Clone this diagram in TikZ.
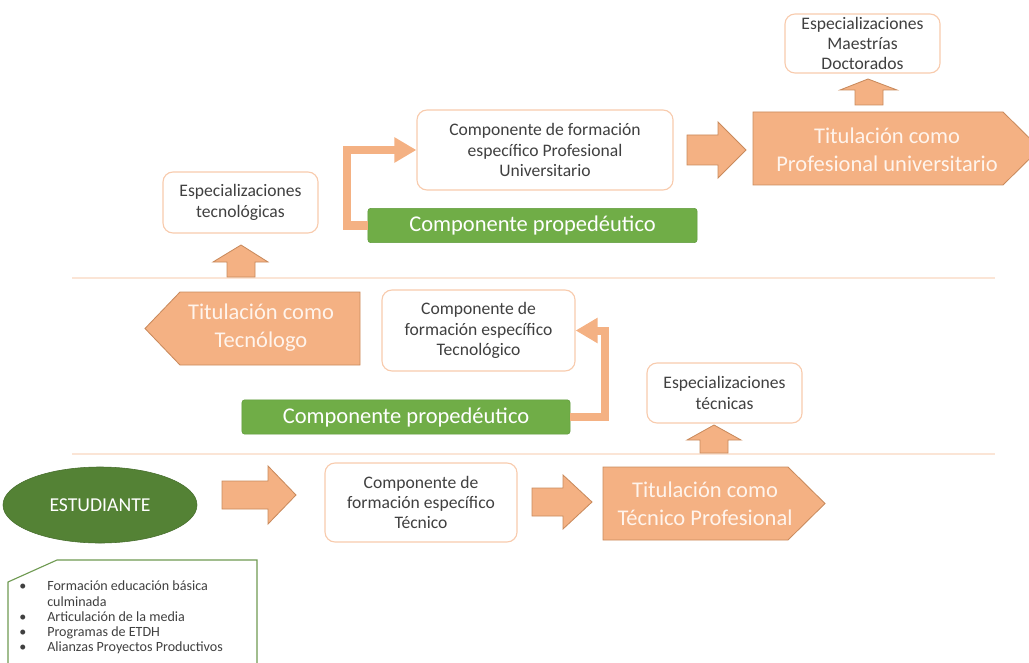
\documentclass[tikz,border=0pt]{standalone}
\usepackage{fontspec}
\setmainfont{Carlito}
\usetikzlibrary{arrows.meta,shapes.geometric}
\definecolor{orangefill}{HTML}{F4B183}
\definecolor{orangeline}{HTML}{C98A5C}
\definecolor{boxline}{HTML}{F8CBAD}
\definecolor{barGreen}{HTML}{70AD47}
\definecolor{barGreenLine}{HTML}{5E9A3A}
\definecolor{darkGreen}{HTML}{548235}
\definecolor{listGreen}{HTML}{6F9A52}
\definecolor{txtgray}{HTML}{404040}
\definecolor{sepline}{HTML}{FBE5D6}
\definecolor{titlewhite}{HTML}{FFF4EC}
\begin{document}
\begin{tikzpicture}[x=0.025cm, y=-0.025cm,
    box/.style={draw=boxline, line width=0.8pt, rounded corners=0.25cm, fill=white, text=txtgray, align=center, inner sep=0pt, font=\fontsize{12.5}{14.5}\selectfont},
    prop/.style={fill=barGreen, draw=barGreenLine, line width=0.4pt, rounded corners=2pt, text=white, inner sep=0pt, font=\fontsize{16}{20}\selectfont, minimum height=0.86cm},
    block/.style={fill=orangefill, draw=orangeline, line width=0.6pt, line join=miter},
    big/.style={text=titlewhite, align=center, font=\fontsize{16}{20}\selectfont},
    elbow/.style={draw=orangefill, line width=0.2cm, -{Triangle[length=0.55cm,width=0.6cm]}}]
\useasboundingbox (0,0) rectangle (1029,662);
\clip (0,0) rectangle (1029,662);

% separators
\draw[sepline, line width=1pt] (72,278) -- (995,278);
\draw[sepline, line width=1pt] (72,454) -- (995,454);

% boxes
\node[box, minimum width=3.875cm, minimum height=1.475cm] (EMD) at (862.5,43.5) {Especializaciones\\Maestrías\\Doctorados};
\node[box, minimum width=6.4cm, minimum height=2cm] (CU) at (545,150) {Componente de formación\\específico Profesional\\Universitario};
\node[box, minimum width=3.875cm, minimum height=1.525cm] (ETG) at (240.5,202.5) {Especializaciones\\tecnológicas};
\node[box, minimum width=4.825cm, minimum height=2.025cm] (CT) at (478.5,330.5) {Componente de\\formación específico\\Tecnológico};
\node[box, minimum width=3.875cm, minimum height=1.5cm] (ET) at (724.5,393) {Especializaciones\\técnicas};
\node[box, minimum width=4.8cm, minimum height=1.975cm] (CTE) at (421,502.5) {Componente de\\formación específico\\Técnico};

% propedeutico
\node[prop, minimum width=8.225cm] (P2) at (532.5,225.5) {Componente propedéutico};
\node[prop, minimum width=8.2cm] (P1) at (406,417) {Componente propedéutico};
\draw[elbow] (P1.east) -- ++(35,0) |- (CT.east);
\draw[elbow] (P2.west) -- ++(-21,0) |- (CU.west);

% titles
\draw[block] (603,467) -- (788,467) -- (825,503.5) -- (788,540) -- (603,540) -- cycle;
\draw[block] (753,112) -- (1003,112) -- (1040,148.5) -- (1003,185) -- (753,185) -- cycle;
\draw[block] (360,292) -- (180,292) -- (145,328.5) -- (180,365) -- (360,365) -- cycle;
\node[big] (TP) at (705,504) {Titulación como\\Técnico Profesional};
\node[big] (PU) at (887,150) {Titulación como\\Profesional universitario};
\node[big] (TG) at (261,328) {Titulación como\\Tecnólogo};

% block arrows
\draw[block] (222,481) -- (268,481) -- (268,466) -- (296,495) -- (268,524) -- (268,509) -- (222,509) -- cycle;
\draw[block] (532,488) -- (563,488) -- (563,475) -- (592,502) -- (563,529) -- (563,516) -- (532,516) -- cycle;
\draw[block] (687,135) -- (718,135) -- (718,122) -- (746,150) -- (718,178) -- (718,165) -- (687,165) -- cycle;
\draw[block] (227,277) -- (227,262) -- (213,262) -- (241,245) -- (268,262) -- (255,262) -- (255,277) -- cycle;
\draw[block] (700,453) -- (700,440) -- (687,440) -- (714,425) -- (741,440) -- (728,440) -- (728,453) -- cycle;
\draw[block] (855,105) -- (855,90) -- (840,90) -- (868,79) -- (897,90) -- (883,90) -- (883,105) -- cycle;

% estudiante
\node[ellipse, fill=darkGreen, draw=darkGreen!85!black, minimum width=4.85cm, minimum height=1.9cm, text=white, font=\fontsize{14}{16}\selectfont] (E) at (100,505) {ESTUDIANTE};

% requisitos
\draw[listGreen, line width=0.8pt, fill=white] (8,672) -- (8,582) -- (57,560) -- (257,560) -- (257,672);
\node[anchor=north west, inner sep=0pt, text=txtgray, font=\fontsize{10}{10.8}\selectfont] (L) at (19,580) {%
  \begin{tabular}{@{}p{0.7cm}@{}l@{}}
  • & Formación educación básica\\
    & culminada\\
  • & Articulación de la media\\
  • & Programas de ETDH\\
  • & Alianzas Proyectos Productivos
  \end{tabular}};
\end{tikzpicture}
\end{document}
